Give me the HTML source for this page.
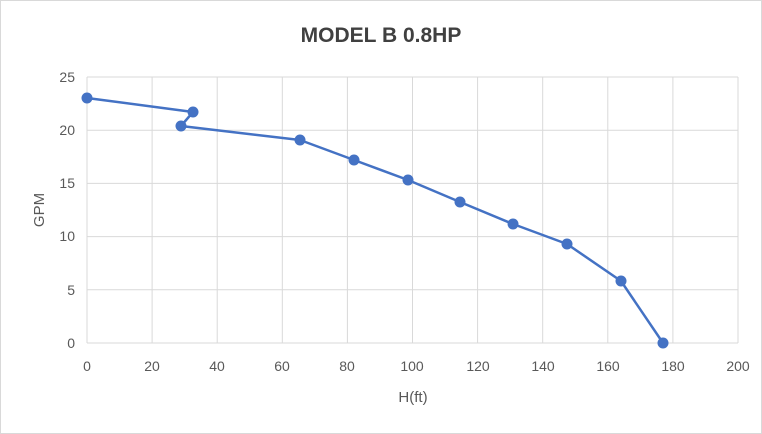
<!DOCTYPE html>
<html><head><meta charset="utf-8"><style>
body{margin:0;background:#fff;}
svg{display:block;font-family:"Liberation Sans",sans-serif;}
</style></head><body>
<svg width="762" height="434" viewBox="0 0 762 434" xmlns="http://www.w3.org/2000/svg">
<rect x="0.5" y="0.5" width="761" height="433" fill="#fff" stroke="#d9d9d9"/>
<text x="381" y="42" text-anchor="middle" font-size="21" font-weight="bold" fill="#404040">MODEL B 0.8HP</text>
<g stroke="#d9d9d9" stroke-width="1">
<line x1="87" y1="77" x2="738" y2="77"/>
<line x1="87" y1="130.2" x2="738" y2="130.2"/>
<line x1="87" y1="183.4" x2="738" y2="183.4"/>
<line x1="87" y1="236.6" x2="738" y2="236.6"/>
<line x1="87" y1="289.8" x2="738" y2="289.8"/>
<line x1="87" y1="343" x2="738" y2="343"/>
<line x1="87" y1="77" x2="87" y2="343"/>
<line x1="152.1" y1="77" x2="152.1" y2="343"/>
<line x1="217.2" y1="77" x2="217.2" y2="343"/>
<line x1="282.3" y1="77" x2="282.3" y2="343"/>
<line x1="347.4" y1="77" x2="347.4" y2="343"/>
<line x1="412.5" y1="77" x2="412.5" y2="343"/>
<line x1="477.6" y1="77" x2="477.6" y2="343"/>
<line x1="542.7" y1="77" x2="542.7" y2="343"/>
<line x1="607.8" y1="77" x2="607.8" y2="343"/>
<line x1="672.9" y1="77" x2="672.9" y2="343"/>
<line x1="738" y1="77" x2="738" y2="343"/>
</g>
<g font-size="14" fill="#595959" text-anchor="end">
<text x="75" y="82">25</text><text x="75" y="135">20</text><text x="75" y="188">15</text>
<text x="75" y="241">10</text><text x="75" y="295">5</text><text x="75" y="348">0</text>
</g>
<g font-size="14" fill="#595959" text-anchor="middle">
<text x="87" y="371">0</text><text x="152" y="371">20</text><text x="217" y="371">40</text>
<text x="282" y="371">60</text><text x="347" y="371">80</text><text x="412" y="371">100</text>
<text x="478" y="371">120</text><text x="543" y="371">140</text><text x="608" y="371">160</text>
<text x="673" y="371">180</text><text x="738" y="371">200</text>
</g>
<text x="413" y="402" text-anchor="middle" font-size="15" fill="#595959">H(ft)</text>
<text transform="translate(44,210) rotate(-90)" text-anchor="middle" font-size="15" fill="#595959">GPM</text>
<polyline fill="none" stroke="#4472c4" stroke-width="2.5" stroke-linejoin="round"
points="87,98 193,112 181,126 300,140 354,160 408,180 460,202 513,224 567,244 621,281 663,343"/>
<g fill="#4472c4">
<circle cx="87" cy="98" r="5.5"/><circle cx="193" cy="112" r="5.5"/><circle cx="181" cy="126" r="5.5"/>
<circle cx="300" cy="140" r="5.5"/><circle cx="354" cy="160" r="5.5"/><circle cx="408" cy="180" r="5.5"/>
<circle cx="460" cy="202" r="5.5"/><circle cx="513" cy="224" r="5.5"/><circle cx="567" cy="244" r="5.5"/>
<circle cx="621" cy="281" r="5.5"/><circle cx="663" cy="343" r="5.5"/>
</g>
</svg>
</body></html>
